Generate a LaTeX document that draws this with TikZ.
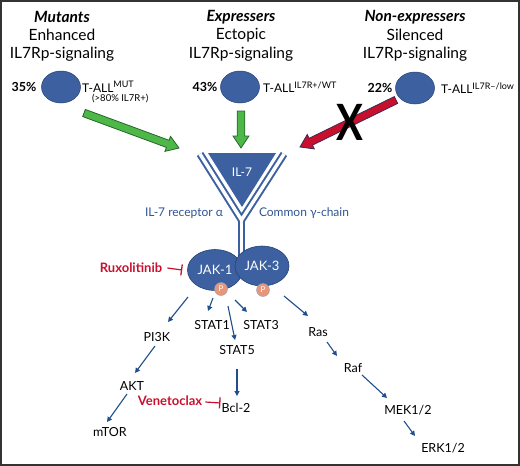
\documentclass[tikz,border=0pt]{standalone}
\usepackage{fontspec}
\setmainfont{Lato}
\usetikzlibrary{calc,arrows.meta,shapes.geometric}
\definecolor{nblue}{RGB}{60,96,160}
\definecolor{nedge}{RGB}{40,66,115}
\definecolor{tblue}{RGB}{47,84,150}
\definecolor{ablue}{RGB}{31,78,140}
\definecolor{dred}{RGB}{200,16,46}
\definecolor{gfill}{RGB}{77,184,72}
\definecolor{gedge}{RGB}{40,100,45}
\definecolor{redge}{RGB}{60,40,80}
\definecolor{salmon}{RGB}{232,150,122}
\newcommand{\myup}[1]{\raisebox{4.5pt}{\fontsize{9}{10}\selectfont #1}}
\newcommand{\fatarrow}[4]{% start, end, fill, edge
  \coordinate (H) at ($(#2)!12pt!(#1)$);
  \filldraw[fill=#3, draw=#4, line width=0.8pt, line join=miter]
    ($(#1)!3.8pt!90:(#2)$) -- ($(H)!3.8pt!-90:(#1)$) -- ($(H)!8pt!-90:(#1)$) -- (#2)
    -- ($(H)!8pt!90:(#1)$) -- ($(H)!3.8pt!90:(#1)$) -- ($(#1)!3.8pt!-90:(#2)$) -- cycle;}
\begin{document}
\begin{tikzpicture}[x=1pt,y=-1pt,
  head/.style={font=\fontsize{15.5}{17}\selectfont\bfseries\itshape, inner sep=0},
  sub/.style={font=\fontsize{15.5}{17}\selectfont, inner sep=0},
  pct/.style={font=\fontsize{12.5}{14}\selectfont\bfseries, inner sep=0},
  lab/.style={font=\fontsize{12}{13}\selectfont, inner sep=0, anchor=west},
  cell/.style={ellipse, fill=nblue, draw=nedge, line width=0.5pt, minimum width=39pt, minimum height=32pt, inner sep=0},
  jak/.style={ellipse, fill=nblue, draw=nedge, line width=0.6pt, minimum width=55pt, minimum height=41pt, inner sep=0, text=white, font=\fontsize{13}{14}\selectfont},
  pc/.style={circle, fill=salmon, draw=nedge!50, line width=0.4pt, minimum size=13pt, inner sep=0, text=white, font=\fontsize{8}{9}\selectfont},
  gene/.style={font=\fontsize{12.5}{14}\selectfont, inner sep=0},
  drug/.style={font=\fontsize{13}{14}\selectfont\bfseries, text=dred, inner sep=0},
  rlab/.style={font=\fontsize{12}{13}\selectfont, text=tblue, inner sep=0},
  sig/.style={draw=ablue, line width=1.1pt, -{Triangle[length=5pt,width=5pt]}},
  inh/.style={draw=dred, line width=1.2pt, -{Bar[width=11pt,line width=1.3pt]}}
]
\useasboundingbox (0,0) rectangle (520,466);
\draw[line width=2pt, draw=black!80] (1,1) rectangle (519,465);

% headings
\node[head] (h1a) at (62,17) {Mutants};
\node[sub] (h1b) at (62,35) {Enhanced};
\node[sub] (h1c) at (62,54) {IL7Rp-signaling};
\node[head] (h2a) at (241,17) {Expressers};
\node[sub] (h2b) at (241,35) {Ectopic};
\node[sub] (h2c) at (241,54) {IL7Rp-signaling};
\node[head] (h3a) at (415,17) {Non-expressers};
\node[sub] (h3b) at (415,35) {Silenced};
\node[sub] (h3c) at (415,54) {IL7Rp-signaling};

% cells
\node[cell] (c1) at (61,87) {};
\node[cell] (c2) at (240,87) {};
\node[cell] (c3) at (415,88) {};
\node[pct] (p1) at (24,87) {35\%};
\node[pct] (p2) at (205,87) {43\%};
\node[pct] (p3) at (380,88) {22\%};
\node[lab] (t1) at (82,87) {T-ALL\myup{MUT}};
\node[lab, font=\fontsize{9.5}{10}\selectfont] (t1b) at (92,99) {(>80\% IL7R+)};
\node[lab] (t2) at (263,87) {T-ALL\myup{IL7R+/WT}};
\node[lab] (t3) at (441,88) {T-ALL\myup{IL7R–/low}};

% fat arrows
\coordinate (g1s) at (84,113);
\coordinate (g1e) at (179,148);
\coordinate (g2s) at (241,111);
\coordinate (g2e) at (241,148);
\coordinate (r1s) at (396,100);
\coordinate (r1e) at (300,147);
\fatarrow{g1s}{g1e}{gfill}{gedge}
\fatarrow{g2s}{g2e}{gfill}{gedge}
\fatarrow{r1s}{r1e}{dred}{redge}
\node[font=\fontsize{50}{52}\selectfont\bfseries, xscale=0.8, inner sep=0] (x) at (350,122) {X};

% receptor
\fill[nblue] (208,153) -- (276,153) -- (242,207) -- cycle;
\node[text=white, font=\fontsize{12}{13}\selectfont, inner sep=0] (il7) at (242,172) {IL-7};
\coordinate (ya) at (200,154);
\coordinate (yb) at (284,154);
\coordinate (yj) at (241.5,220);
\coordinate (ys) at (241.5,258);
\draw[nblue, line width=7.5pt, line join=miter] (ya) -- (yj) -- (yb);
\draw[nblue, line width=7.5pt] (yj) -- (ys);
\draw[white, line width=3.5pt, line join=miter] (ya) -- (yj) -- (yb);
\draw[white, line width=3.5pt] (yj) -- (ys);
\node[rlab] (ra) at (184,213) {IL-7 receptor α};
\node[rlab] (rg) at (304,213) {Common γ-chain};

% JAKs
\node[jak] (jak1) at (215,270) {JAK-1};
\node[jak, minimum width=54pt, minimum height=40pt] (jak3) at (262,266) {JAK-3};
\node[pc] (pa) at (221,289) {P};
\node[pc] (pb) at (263,290) {P};

\node[drug] (rux) at (131,268) {Ruxolitinib};
\draw[inh] ($(rux.east)+(5,0)$) -- ($(jak1.west)+(-5,0)$);

% pathway nodes
\node[gene] (pi3k) at (157,337) {PI3K};
\node[gene] (stat1) at (212,325) {STAT1};
\node[gene] (stat3) at (261,325) {STAT3};
\node[gene] (stat5) at (237,350) {STAT5};
\node[gene] (ras) at (318,332) {Ras};
\node[gene] (akt) at (132,386) {AKT};
\node[gene] (mtor) at (110,432) {mTOR};
\node[gene] (bcl2) at (236,408) {Bcl-2};
\node[gene] (raf) at (353,368) {Raf};
\node[gene] (mek) at (408,410) {MEK1/2};
\node[gene] (erk) at (443,448) {ERK1/2};
\node[drug] (ven) at (170,401) {Venetoclax};

\coordinate (a1s) at (188,297); \coordinate (a1e) at (168,322);
\coordinate (a2s) at (213,298); \coordinate (a2e) at (208,311);
\coordinate (a3s) at (228,306); \coordinate (a3e) at (235,340);
\coordinate (a4s) at (235,300); \coordinate (a4e) at (247,312);
\coordinate (a5s) at (284,296); \coordinate (a5e) at (308,316);
\coordinate (a6s) at (155,346); \coordinate (a6e) at (135,373);
\coordinate (a7s) at (127,394); \coordinate (a7e) at (107,422);
\coordinate (a8s) at (237,369); \coordinate (a8e) at (237,396);
\coordinate (a9s) at (327,342); \coordinate (a9e) at (337,356);
\coordinate (b1s) at (362,375); \coordinate (b1e) at (387,398);
\coordinate (b2s) at (404,421); \coordinate (b2e) at (415,436);
\draw[sig] (a1s) -- (a1e);
\draw[sig] (a2s) -- (a2e);
\draw[sig] (a3s) -- (a3e);
\draw[sig] (a4s) -- (a4e);
\draw[sig] (a5s) -- (a5e);
\draw[sig] (a6s) -- (a6e);
\draw[sig] (a7s) -- (a7e);
\draw[sig] (a8s) -- (a8e);
\draw[sig] (a9s) -- (a9e);
\draw[sig] (b1s) -- (b1e);
\draw[sig] (b2s) -- (b2e);
\draw[inh] ($(ven.east)+(3,1)$) -- ($(bcl2.west)+(-1,-5)$);
\end{tikzpicture}
\end{document}
